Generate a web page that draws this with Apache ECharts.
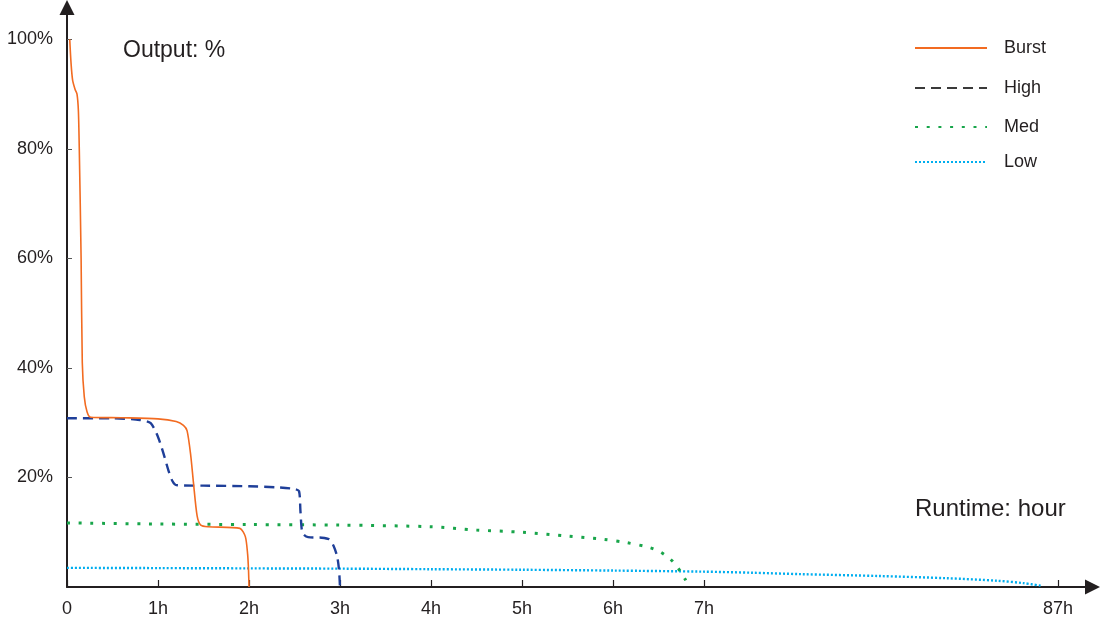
<!DOCTYPE html>
<html>
<head>
<meta charset="utf-8">
<title>Output vs runtime</title>
<script src="https://cdn.jsdelivr.net/npm/echarts@6/dist/echarts.min.js"></script>
<style>
  html, body { margin: 0; padding: 0; background: #fff; }
  #chart { width: 1100px; height: 618px; }
</style>
</head>
<body>
<div id="chart"></div>
<script>
(function () {
  'use strict';

  // runtime ticks (hours) and their labels; the axis is squeezed after 7h
  var tickHours = [0, 1, 2, 3, 4, 5, 6, 7, 87];
  var tickLabels = ['0', '1h', '2h', '3h', '4h', '5h', '6h', '7h', '87h'];
  var yTicks = [20, 40, 60, 80, 100];

  var seriesNames = ['Burst', 'High', 'Med', 'Low'];

  // [hours, output %]
  var burst = [
    [0.03, 100], [0.045, 95.5], [0.062, 92.5], [0.09, 90.8], [0.11, 90],
    [0.125, 87], [0.135, 80], [0.155, 60], [0.168, 41], [0.19, 34.7],
    [0.22, 32], [0.26, 31], [0.6, 30.9], [1.0, 30.7], [1.2, 30.2],
    [1.28, 29.5], [1.32, 28.5], [1.36, 24], [1.39, 19], [1.43, 13],
    [1.47, 11.3], [1.55, 11], [1.9, 10.7], [1.96, 9.2], [1.985, 6],
    [1.995, 3], [2.0, 0]
  ];
  var high = [
    [0, 30.8], [0.5, 30.8], [0.8, 30.5], [0.92, 29.9], [1.0, 27.4],
    [1.06, 24.4], [1.12, 21], [1.16, 19.3], [1.2, 18.6], [1.5, 18.5],
    [2.0, 18.4], [2.3, 18.2], [2.5, 17.9], [2.55, 17.5], [2.565, 14],
    [2.58, 10.5], [2.6, 9.6], [2.65, 9.1], [2.8, 9.0], [2.88, 8.7],
    [2.93, 7.5], [2.97, 5.5], [2.99, 3], [3.0, 0]
  ];
  var med = [
    [0, 11.7], [1, 11.5], [2, 11.4], [3, 11.3], [4, 11.0], [4.5, 10.4],
    [5, 10.0], [5.5, 9.3], [5.9, 8.7], [6.15, 8.1], [6.4, 7.2],
    [6.52, 6.4], [6.63, 5.1], [6.71, 3.6], [6.78, 1.8], [6.8, 1.2]
  ];
  var low = [
    [0, 3.5], [1, 3.45], [2, 3.4], [3, 3.35], [4, 3.25], [5, 3.15],
    [6, 3.0], [7, 2.8], [18, 2.6], [28.8, 2.35], [46.8, 2.0],
    [61.9, 1.6], [73.2, 1.15], [79.2, 0.7], [83.4, 0.2]
  ];

  var FONT = '"Liberation Sans", Arial, Helvetica, sans-serif';
  var INK = '#231f20';

  // broken runtime axis: linear up to 7h, then 7h..87h compressed
  function hourPos(h) {
    if (h <= 7) {
      return h;
    }
    return 7 + (h - 7) * (3.89 / 80);
  }

  function toPos(points) {
    var out = [];
    for (var i = 0; i < points.length; i += 1) {
      out.push([hourPos(points[i][0]), points[i][1]]);
    }
    return out;
  }

  var tickPos = tickHours.map(hourPos);

  function labelFor(value) {
    for (var i = 0; i < tickPos.length; i += 1) {
      if (Math.abs(tickPos[i] - value) < 1e-6) {
        return tickLabels[i];
      }
    }
    return '';
  }

  // one legend block per entry so the rows sit where the original has them
  var legendRowTops = [34, 74, 113, 148];

  function buildLegends() {
    var out = [];
    for (var i = 0; i < seriesNames.length; i += 1) {
      var item = { name: seriesNames[i] };
      if (seriesNames[i] === 'High') {
        item.lineStyle = { color: '#3a3a3a' };
      }
      out.push({
        orient: 'vertical',
        left: 909,
        top: legendRowTops[i],
        itemWidth: 72,
        itemHeight: 14,
        itemGap: 0,
        selectedMode: false,
        itemStyle: { color: 'rgba(0,0,0,0)', borderWidth: 0, opacity: 0 },
        textStyle: { fontFamily: FONT, fontSize: 18, color: INK, padding: [0, 0, 0, 12] },
        data: [item]
      });
    }
    return out;
  }

  var chart = echarts.init(document.getElementById('chart'), null, { renderer: 'canvas' });

  var option = {
    animation: false,
    backgroundColor: '#fff',
    grid: { left: 67, right: 7.5, top: 7.5, bottom: 31, containLabel: false },
    legend: buildLegends(),
    xAxis: {
      type: 'value',
      min: 0,
      max: 11.27,
      splitLine: { show: false },
      axisLine: {
        show: true,
        symbol: ['none', 'triangle'],
        symbolSize: [15, 15],
        lineStyle: { color: INK, width: 2 }
      },
      axisTick: {
        show: true,
        inside: true,
        length: 7,
        customValues: tickPos,
        lineStyle: { color: INK, width: 1.2 }
      },
      axisLabel: {
        customValues: tickPos,
        formatter: labelFor,
        margin: 13,
        fontFamily: FONT,
        fontSize: 18,
        color: INK
      }
    },
    yAxis: {
      type: 'value',
      min: 0,
      max: 105.8,
      splitLine: { show: false },
      axisLine: {
        show: true,
        symbol: ['none', 'triangle'],
        symbolSize: [15, 15],
        lineStyle: { color: INK, width: 2 }
      },
      axisTick: {
        show: true,
        inside: true,
        length: 5,
        customValues: yTicks,
        lineStyle: { color: '#555', width: 1 }
      },
      axisLabel: {
        customValues: yTicks,
        formatter: '{value}%',
        margin: 14,
        fontFamily: FONT,
        fontSize: 18,
        color: INK
      }
    },
    graphic: [
      {
        type: 'text',
        left: 123,
        top: 39,
        style: { text: 'Output: %', font: '23px ' + FONT, fill: INK }
      },
      {
        type: 'text',
        left: 915,
        top: 497,
        style: { text: 'Runtime: hour', font: '24px ' + FONT, fill: INK }
      }
    ],
    series: [
      {
        name: seriesNames[0],
        type: 'line',
        data: toPos(burst),
        symbol: 'none',
        smooth: 0.25,
        z: 4,
        lineStyle: { color: '#f26b21', width: 1.6, type: 'solid' },
        itemStyle: { color: '#f26b21' }
      },
      {
        name: seriesNames[1],
        type: 'line',
        data: toPos(high),
        symbol: 'none',
        smooth: 0.25,
        z: 3,
        lineStyle: { color: '#1f3f99', width: 2.4, type: [10, 6] },
        itemStyle: { color: '#1f3f99' }
      },
      {
        name: seriesNames[2],
        type: 'line',
        data: toPos(med),
        symbol: 'none',
        smooth: 0.3,
        z: 2,
        lineStyle: { color: '#18a54a', width: 3, type: [3, 8.7] },
        itemStyle: { color: '#18a54a' }
      },
      {
        name: seriesNames[3],
        type: 'line',
        data: toPos(low),
        symbol: 'none',
        smooth: 0.3,
        z: 1,
        lineStyle: { color: '#00aeef', width: 2.4, type: [2, 2] },
        itemStyle: { color: '#00aeef' }
      }
    ]
  };

  chart.setOption(option);

  window.addEventListener('resize', function () {
    chart.resize();
  });
})();
</script>
</body>
</html>
